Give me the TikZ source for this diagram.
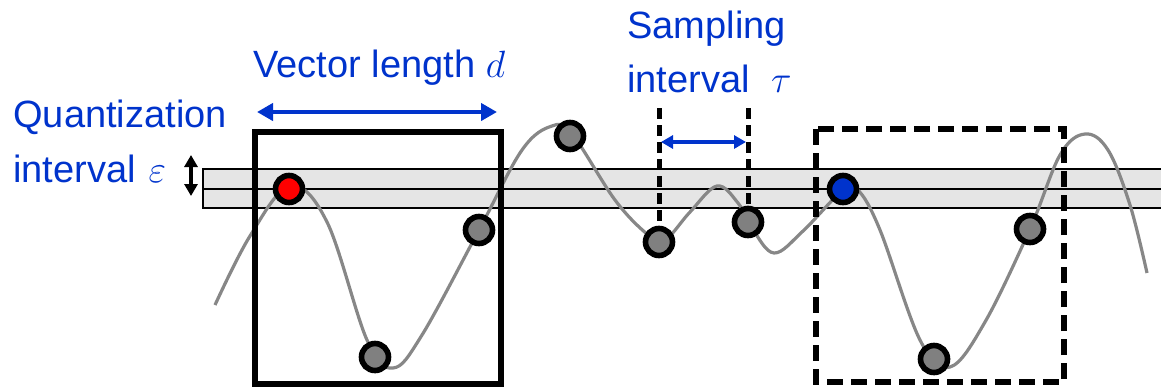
\RequirePackage{fix-cm}
\documentclass[tikz,border=0pt]{standalone}
\usepackage{fontspec}
\setmainfont{Liberation Sans}
\usetikzlibrary{arrows.meta}
\definecolor{tblue}{HTML}{0033CC}
\definecolor{bnd}{gray}{0.9}
\definecolor{crv}{gray}{0.53}
\definecolor{smp}{gray}{0.5}
\tikzset{
  lbl/.style={text=tblue, font=\fontsize{19}{27}\selectfont, align=left, inner sep=0pt},
  dot/.style={circle, draw, line width=2.8pt, minimum size=13.5pt, inner sep=0pt, fill=smp},
  dimarr/.style={draw=tblue, line width=2.4pt, {Triangle[length=8pt,width=8.5pt]}-{Triangle[length=8pt,width=8.5pt]}},
  smarr/.style={draw=tblue, line width=1.8pt, {Triangle[length=6pt,width=6.5pt]}-{Triangle[length=6pt,width=6.5pt]}},
  win/.style={line width=2.6pt},
  dwin/.style={line width=2.6pt, dash pattern=on 8pt off 4pt},
  tick/.style={line width=2.5pt, dash pattern=on 5.5pt off 3pt}}

\begin{document}
\begin{tikzpicture}[x=0.5pt, y=-0.5pt]
\useasboundingbox (0,0) rectangle (1161,387);
\fill[bnd] (203,169) rectangle (1170,208);
\draw[line width=0.75pt] (1170,169) -- (203,169) -- (203,208) -- (1170,208);
\draw[line width=0.75pt] (203,189) -- (1170,189);
\draw[crv, line width=1.6pt] plot[smooth, tension=0.6] coordinates {(215,305) (250,236) (290,186) (327,222) (367,340) (393,368) (422,335) (479,230) (522,150) (552,126) (572,134) (615,200) (647,234) (664,241) (690,212) (717,186) (738,203) (752,228) (774,253) (803,231) (843,190) (858,190) (880,230) (920,340) (950,367) (985,322) (1030,229) (1060,155) (1085,134) (1108,150) (1130,205) (1147,273)};
\draw[win] (255,132) rectangle (501,384);
\draw[dwin] (816,129) rectangle (1064,382);
\node[dot, fill=red] (r0) at (289,189) {};
\node[dot] (s1) at (375,357) {};
\node[dot] (s2) at (479,230) {};
\node[dot] (s3) at (570,136) {};
\node[dot] (s4) at (659,242) {};
\node[dot] (s5) at (748,222) {};
\node[dot, fill=tblue] (b0) at (843,189) {};
\node[dot] (s6) at (934,359) {};
\node[dot] (s7) at (1030,229) {};
\coordinate (t4) at (659,108);
\coordinate (t5) at (748,108);
\draw[tick] (t4) -- (s4.north);
\draw[tick] (t5) -- (s5.north);
\coordinate (dl) at (257,112);
\coordinate (dr) at (497,112);
\draw[dimarr] (dl) -- (dr);
\coordinate (tl) at (661,142);
\coordinate (tr) at (746,142);
\draw[smarr] (tl) -- (tr);
\coordinate (et) at (191,155);
\coordinate (eb) at (191,196);
\draw[line width=1.8pt, {Triangle[length=6pt,width=6.5pt]}-{Triangle[length=6pt,width=6.5pt]}] (et) -- (eb);
\node[lbl, anchor=base west] (dlbl) at (253,77) {Vector length $d$};
\node[lbl, anchor=base west] (elbl) at (13,182) {Quantization\\[0.5pt]interval\,\,$\varepsilon$};
\node[lbl, anchor=base west] (tlbl) at (627,92) {Sampling\\interval\ \ $\tau$};
\end{tikzpicture}
\end{document}
